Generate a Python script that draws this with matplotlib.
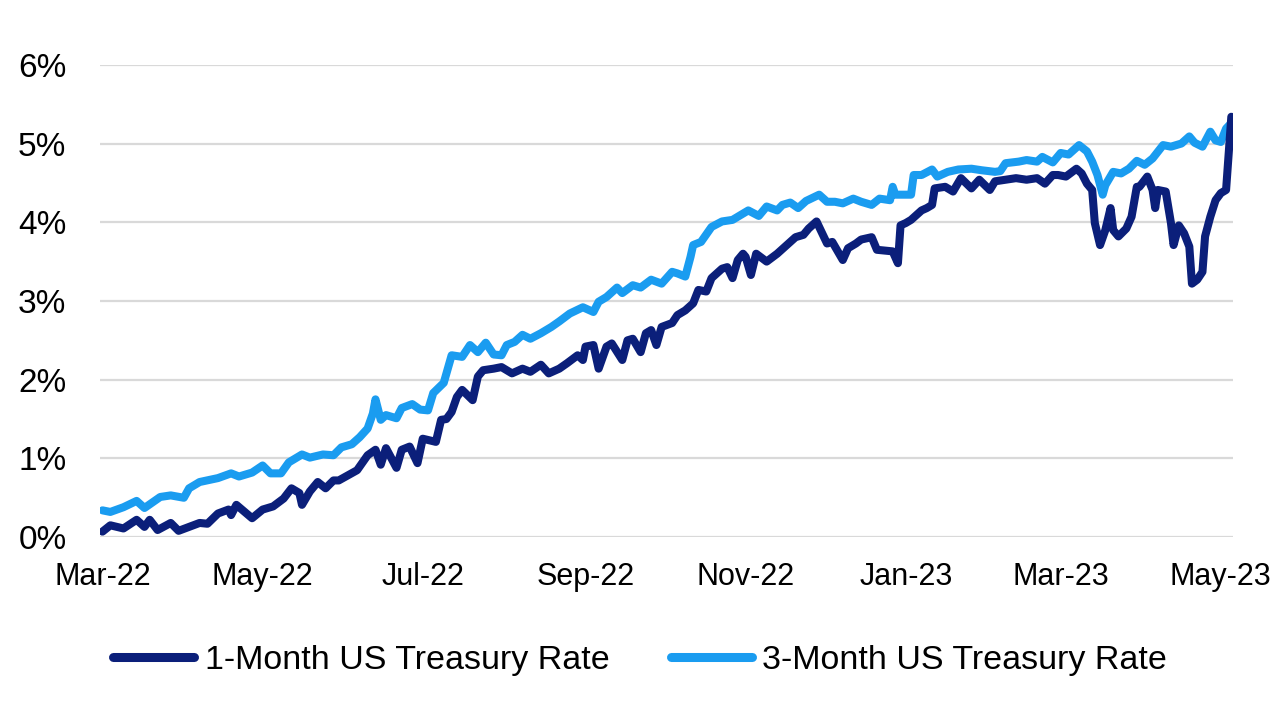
import matplotlib
matplotlib.use("Agg")
import matplotlib.pyplot as plt
import matplotlib.dates as mdates
from matplotlib.ticker import FuncFormatter
import pandas as pd

START = "2022-03-01"

# days after START
days_3m = [0, 3, 8, 13, 16, 22, 26, 31, 33, 37, 44, 49, 52, 57, 61, 64, 68, 71,
           76, 79, 84, 88, 91, 95, 98, 101, 103, 104, 106, 108, 112, 114, 118,
           121, 124, 126, 130, 133, 137, 140, 143, 146, 149, 152, 154, 157, 160,
           163, 167, 171, 174, 178, 183, 187, 189, 192, 196, 198, 202, 205, 209,
           213, 217, 219, 222, 224, 225, 228, 232, 236, 240, 243, 246, 250, 253,
           257, 259, 262, 265, 268, 273, 276, 279, 282, 286, 289, 293, 296, 300,
           301, 302, 305, 308, 309, 312, 316, 318, 322, 326, 331, 335, 340, 342,
           344, 349, 352, 356, 358, 362, 365, 368, 372, 375, 377, 379, 381, 382,
           385, 388, 391, 394, 397, 400, 404, 407, 411, 414, 416, 419, 422, 424,
           426, 428, 430]
rate_3m = [0.34, 0.32, 0.38, 0.46, 0.37, 0.51, 0.53, 0.50, 0.62, 0.70, 0.75, 0.81,
           0.77, 0.82, 0.91, 0.81, 0.81, 0.95, 1.05, 1.01, 1.05, 1.04, 1.14, 1.18,
           1.27, 1.38, 1.57, 1.75, 1.49, 1.55, 1.51, 1.64, 1.69, 1.62, 1.61, 1.83,
           1.96, 2.31, 2.29, 2.44, 2.35, 2.47, 2.32, 2.31, 2.44, 2.48, 2.57, 2.52,
           2.59, 2.67, 2.74, 2.84, 2.92, 2.86, 2.99, 3.05, 3.17, 3.10, 3.20, 3.17,
           3.27, 3.22, 3.37, 3.35, 3.31, 3.56, 3.71, 3.75, 3.94, 4.01, 4.03, 4.09,
           4.15, 4.08, 4.20, 4.15, 4.22, 4.25, 4.18, 4.27, 4.35, 4.26, 4.26, 4.24,
           4.30, 4.26, 4.22, 4.30, 4.28, 4.45, 4.35, 4.35, 4.35, 4.60, 4.60, 4.67,
           4.58, 4.64, 4.67, 4.68, 4.66, 4.64, 4.65, 4.75, 4.77, 4.79, 4.77, 4.83,
           4.76, 4.88, 4.86, 4.98, 4.90, 4.77, 4.60, 4.35, 4.47, 4.64, 4.62, 4.68,
           4.78, 4.73, 4.81, 4.98, 4.96, 5.00, 5.09, 5.01, 4.96, 5.15, 5.04, 5.02,
           5.19, 5.26]

days_1m = [0, 3, 8, 13, 16, 18, 21, 26, 29, 33, 37, 40, 44, 48, 49, 51, 57, 61,
           65, 69, 72, 75, 76, 79, 82, 85, 88, 90, 97, 101, 104, 106, 108, 112,
           114, 117, 120, 122, 127, 129, 131, 133, 135, 137, 141, 143, 145, 149,
           152, 156, 160, 163, 167, 170, 174, 177, 181, 183, 184, 187, 189, 192,
           194, 198, 200, 202, 205, 207, 209, 211, 213, 217, 219, 222, 225, 227,
           230, 232, 236, 238, 240, 242, 244, 245, 247, 249, 253, 257, 260, 264,
           267, 269, 272, 276, 278, 282, 284, 287, 289, 293, 295, 298, 301, 303,
           304, 306, 308, 310, 312, 314, 316, 317, 321, 324, 327, 331, 334, 338,
           340, 344, 348, 352, 356, 359, 362, 364, 367, 371, 373, 375, 377, 378,
           380, 382, 384, 385, 387, 390, 392, 394, 395, 398, 400, 401, 402, 405,
           407, 408, 410, 412, 414, 415, 417, 419, 420, 422, 424, 426, 428, 430]
rate_1m = [0.07, 0.15, 0.11, 0.22, 0.13, 0.22, 0.09, 0.18, 0.08, 0.13, 0.18, 0.17,
           0.30, 0.35, 0.28, 0.41, 0.24, 0.35, 0.39, 0.49, 0.62, 0.56, 0.41, 0.58,
           0.70, 0.62, 0.72, 0.72, 0.85, 1.04, 1.11, 0.92, 1.13, 0.88, 1.11, 1.15,
           0.94, 1.25, 1.21, 1.49, 1.50, 1.59, 1.78, 1.87, 1.74, 2.04, 2.12, 2.14,
           2.16, 2.08, 2.14, 2.10, 2.19, 2.08, 2.14, 2.21, 2.31, 2.25, 2.42, 2.44,
           2.14, 2.42, 2.46, 2.25, 2.50, 2.52, 2.35, 2.59, 2.63, 2.44, 2.67, 2.72,
           2.82, 2.88, 2.97, 3.14, 3.12, 3.29, 3.41, 3.43, 3.29, 3.52, 3.60, 3.56,
           3.33, 3.60, 3.50, 3.60, 3.69, 3.81, 3.84, 3.92, 4.01, 3.73, 3.75, 3.52,
           3.67, 3.73, 3.78, 3.81, 3.65, 3.64, 3.63, 3.48, 3.96, 3.99, 4.03, 4.09,
           4.15, 4.18, 4.22, 4.43, 4.45, 4.39, 4.56, 4.43, 4.54, 4.41, 4.52, 4.54,
           4.56, 4.54, 4.56, 4.49, 4.60, 4.60, 4.58, 4.68, 4.62, 4.49, 4.41, 3.99,
           3.71, 3.90, 4.18, 3.90, 3.82, 3.92, 4.07, 4.45, 4.45, 4.58, 4.41, 4.18,
           4.41, 4.39, 3.99, 3.71, 3.96, 3.86, 3.69, 3.22, 3.27, 3.37, 3.82, 4.07,
           4.28, 4.37, 4.41, 5.34]

LABEL_1M = "1-Month US Treasury Rate"
LABEL_3M = "3-Month US Treasury Rate"

DARK = "#0b1f7a"
LIGHT = "#1a9cf0"


def to_dates(days):
    return pd.to_datetime(START) + pd.to_timedelta(days, unit="D")


def main():
    plt.rcParams["font.family"] = ["Liberation Sans", "DejaVu Sans"]

    fig = plt.figure(figsize=(12.8, 7.2), dpi=100)
    ax = fig.add_axes([0.078, 0.254, 0.885, 0.656])

    ax.plot(to_dates(days_1m), rate_1m, color=DARK, lw=5.8,
            solid_capstyle="round", solid_joinstyle="round", label=LABEL_1M, zorder=3)
    ax.plot(to_dates(days_3m), rate_3m, color=LIGHT, lw=5.8,
            solid_capstyle="round", solid_joinstyle="round", label=LABEL_3M, zorder=2)

    start = pd.to_datetime(START)
    ax.set_xlim(start - pd.Timedelta(days=1), start + pd.Timedelta(days=430.5))
    ax.set_ylim(0, 6)
    ax.set_yticks(range(0, 7))
    ax.yaxis.set_major_formatter(FuncFormatter(lambda v, p: "%d%%" % v))
    ax.xaxis.set_major_locator(mdates.MonthLocator(bymonth=(1, 3, 5, 7, 9, 11)))
    ax.xaxis.set_major_formatter(mdates.DateFormatter("%b-%y"))

    ax.grid(axis="y", color="#d9d9d9", lw=1.6, zorder=0)
    ax.set_axisbelow(True)
    for s in ax.spines.values():
        s.set_visible(False)
    ax.tick_params(axis="y", length=0, pad=24, labelsize=24)
    ax.tick_params(axis="x", length=0, pad=18, labelsize=22)

    handles, labels = ax.get_legend_handles_labels()
    leg = fig.legend(handles, labels, loc="center", bbox_to_anchor=(0.5, 0.083),
                     ncol=2, frameon=False, fontsize=24.5, handlelength=2.4,
                     handletextpad=0.3, columnspacing=1.8)
    for line in leg.get_lines():
        line.set_linewidth(6.5)
        line.set_solid_capstyle("round")

    fig.savefig("out.png", dpi=100)


if __name__ == "__main__":
    main()
